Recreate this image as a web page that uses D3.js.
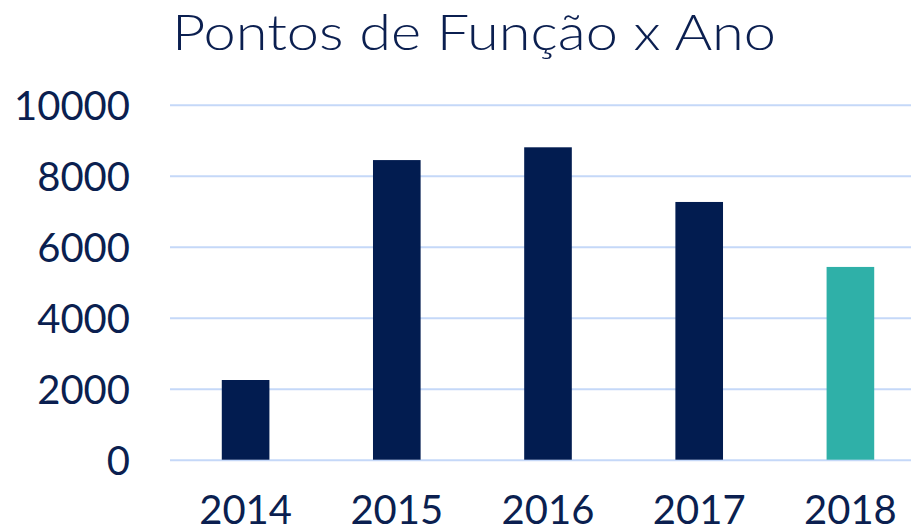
<!DOCTYPE html>
<html><head><meta charset="utf-8">
<script src="https://cdn.jsdelivr.net/npm/d3@7"></script>
<style>body{margin:0;background:#fff}svg{display:block}</style>
</head><body>
<svg id="c" width="911" height="532"></svg>
<script>
const categories = ["2014","2015","2016","2017","2018"];
const values = [2245, 8440, 8800, 7260, 5430];
const barColors = ["#021C50","#021C50","#021C50","#021C50","#2FB0A8"];
const yTicks = [0,2000,4000,6000,8000,10000];
const title = "Pontos de Função x Ano";

const svg = d3.select("#c");
const font = "Lato, 'Open Sans', sans-serif";
const textColor = "#0B1F50";
const m = {left:170, right:926, top:104.7, bottom:459.7};

const x = d3.scaleBand().domain(categories).range([m.left, m.right]).paddingInner(0.685).paddingOuter(0.3425);
const y = d3.scaleLinear().domain([0,10000]).range([m.bottom, m.top]);

// gridlines
const grid = svg.append("g").call(d3.axisLeft(y).tickValues(yTicks).tickSize(-(m.right-m.left)).tickFormat(""))
  .attr("transform",`translate(${m.left},0)`);
grid.select(".domain").remove();
grid.selectAll("line").attr("stroke","#C5D8F8").attr("stroke-width",2);

// y labels
const yAx = svg.append("g").attr("transform",`translate(130,0)`)
  .call(d3.axisLeft(y).tickValues(yTicks).tickSize(0).tickPadding(0).tickFormat(d3.format("d")));
yAx.select(".domain").remove();
yAx.selectAll("text").attr("font-family",font).attr("font-size",40).attr("fill",textColor).attr("dy","0.36em");

// bars
svg.append("g").selectAll("rect").data(categories).join("rect")
  .attr("x",d=>x(d)).attr("width",x.bandwidth())
  .attr("y",(d,i)=>y(values[i])).attr("height",(d,i)=>y(0)-y(values[i]))
  .attr("fill",(d,i)=>barColors[i]);

// x labels
const xAx = svg.append("g").attr("transform",`translate(0,${m.bottom})`)
  .call(d3.axisBottom(x).tickSize(0).tickPadding(0));
xAx.select(".domain").remove();
xAx.selectAll("text").attr("font-family",font).attr("font-size",40).attr("fill",textColor).attr("dy",0).attr("y",64);

// title
svg.append("text").attr("x",172).attr("y",50).attr("text-anchor","start")
  .attr("textLength",604).attr("lengthAdjust","spacingAndGlyphs")
  .attr("font-family",font).attr("font-weight",300).attr("font-size",50).attr("fill",textColor).text(title);
</script>
</body></html>
